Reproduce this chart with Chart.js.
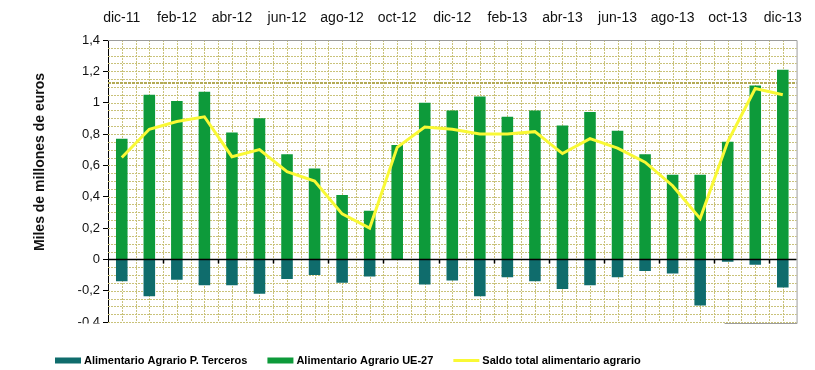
<!DOCTYPE html>
<html>
<head>
<meta charset="utf-8">
<script src="https://cdn.jsdelivr.net/npm/chart.js@4.4.1/dist/chart.umd.min.js"></script>
<style>
  html, body { margin: 0; padding: 0; background: #fff; }
  #wrap { width: 815px; height: 370px; position: relative; }
</style>
</head>
<body>
<div id="wrap"><canvas id="balanza"></canvas></div>
<script>
// Saldo comercial alimentario agrario, miles de millones de euros
const meses = ['dic-11', 'ene-12', 'feb-12', 'mar-12', 'abr-12', 'may-12', 'jun-12', 'jul-12',
               'ago-12', 'sep-12', 'oct-12', 'nov-12', 'dic-12', 'ene-13', 'feb-13', 'mar-13',
               'abr-13', 'may-13', 'jun-13', 'jul-13', 'ago-13', 'sep-13', 'oct-13', 'nov-13', 'dic-13'];
const terceros = [-0.14, -0.235, -0.13, -0.165, -0.165, -0.22, -0.125, -0.10, -0.15, -0.11, -0.005, -0.16,
                  -0.135, -0.235, -0.115, -0.14, -0.19, -0.165, -0.115, -0.075, -0.09, -0.295, -0.015, -0.035, -0.18];
const ue27 = [0.77, 1.05, 1.01, 1.07, 0.81, 0.90, 0.67, 0.58, 0.41, 0.31, 0.73, 1.00,
              0.95, 1.04, 0.91, 0.95, 0.855, 0.94, 0.82, 0.67, 0.54, 0.54, 0.75, 1.11, 1.21];
const saldo = [0.65, 0.83, 0.88, 0.91, 0.655, 0.70, 0.56, 0.50, 0.29, 0.20, 0.715, 0.845,
               0.83, 0.80, 0.80, 0.815, 0.675, 0.77, 0.71, 0.62, 0.47, 0.26, 0.75, 1.09, 1.05];
const yMin = -0.4, yMax = 1.4, yPaso = 0.2;

Chart.defaults.font.family = "'Liberation Sans', Arial, sans-serif";
Chart.defaults.color = '#111';

const fmtComa = v => String(Math.round(v * 10) / 10).replace('.', ',');

// punteado de fondo, linea de cero y marco
const fondo = {
  id: 'fondo',
  beforeDatasetsDraw(chart) {
    const { ctx, chartArea: a, scales: { x, y } } = chart;
    const half = (x.getPixelForValue(1) - x.getPixelForValue(0)) / 2;
    ctx.save();
    ctx.strokeStyle = '#c9c27a';
    ctx.lineWidth = 1;
    ctx.setLineDash([2, 1]);
    ctx.beginPath();
    for (let i = 0; i < meses.length; i++) {
      const c = x.getPixelForValue(i);
      [c - half, c].forEach(px => {
        if (px <= a.left + 1) return;
        const p = Math.round(px) + 0.5;
        ctx.moveTo(p, a.top);
        ctx.lineTo(p, a.bottom);
      });
    }
    for (let k = -8; k <= 27; k++) {
      const p = Math.round(y.getPixelForValue(k * 0.05)) + 0.5;
      ctx.moveTo(a.left, p);
      ctx.lineTo(a.right, p);
    }
    ctx.stroke();
    ctx.strokeStyle = '#b3aa55';
    ctx.lineWidth = 2;
    ctx.setLineDash([3, 1]);
    ctx.beginPath();
    const g = Math.round(y.getPixelForValue(1.125));
    ctx.moveTo(a.left, g);
    ctx.lineTo(a.right, g);
    ctx.stroke();
    ctx.restore();
  },
  afterDatasetsDraw(chart) {
    const { ctx, chartArea: a, scales: { x, y } } = chart;
    const half = (x.getPixelForValue(1) - x.getPixelForValue(0)) / 2;
    ctx.save();
    ctx.strokeStyle = '#000';
    ctx.lineWidth = 1.5;
    const z = Math.round(y.getPixelForValue(0)) + 0.5;
    ctx.beginPath();
    ctx.moveTo(a.left, z);
    ctx.lineTo(a.right, z);
    for (let i = 1; i < meses.length - 1; i += 2) {
      const p = Math.round(x.getPixelForValue(i) + half) + 0.5;
      ctx.moveTo(p, z);
      ctx.lineTo(p, z + 4);
    }
    ctx.stroke();
    ctx.strokeStyle = '#9c9c9c';
    ctx.lineWidth = 1;
    ctx.beginPath();
    ctx.moveTo(a.left, a.top + 0.5);
    ctx.lineTo(a.right + 0.5, a.top + 0.5);
    ctx.lineTo(a.right + 0.5, a.bottom + 1.5);
    ctx.lineTo(a.right - 72, a.bottom + 1.5);
    ctx.stroke();
    ctx.restore();
  },
  afterDraw(chart) {
    const { ctx, chartArea: a } = chart;
    ctx.save();
    // franja inferior recortada
    ctx.fillStyle = '#fff';
    ctx.fillRect(0, a.bottom + 1.5, a.left - 1, 12);
    ctx.translate(40, 162);
    ctx.rotate(-Math.PI / 2);
    ctx.fillStyle = '#111';
    ctx.font = "bold 14px 'Liberation Sans', Arial, sans-serif";
    ctx.textAlign = 'center';
    ctx.textBaseline = 'middle';
    ctx.fillText('Miles de millones de euros', 0, 0);
    ctx.restore();
  }
};

// leyenda inferior: caja o trazo de cada serie y su nombre
const leyenda = {
  id: 'leyenda',
  afterDraw(chart) {
    const { ctx } = chart;
    const cy = 360.5;
    let x = 55;
    ctx.save();
    ctx.font = "bold 11px 'Liberation Sans', Arial, sans-serif";
    ctx.textBaseline = 'middle';
    chart.data.datasets.forEach(ds => {
      if (ds.type === 'line') {
        ctx.strokeStyle = ds.borderColor;
        ctx.lineWidth = ds.borderWidth;
        ctx.beginPath();
        ctx.moveTo(x, cy);
        ctx.lineTo(x + 26, cy);
        ctx.stroke();
      } else {
        ctx.fillStyle = ds.backgroundColor;
        ctx.fillRect(x, cy - 3, 26, 6);
      }
      x += 29;
      ctx.fillStyle = '#000';
      ctx.fillText(ds.label, x, cy);
      x += ctx.measureText(ds.label).width + 20;
    });
    ctx.restore();
  }
};

new Chart(document.getElementById('balanza'), {
  data: {
    labels: meses,
    datasets: [
      {
        type: 'bar',
        label: 'Alimentario Agrario P. Terceros',
        data: terceros,
        backgroundColor: '#0f6c6c',
        stack: 'comercio',
        barPercentage: 0.42,
        categoryPercentage: 1
      },
      {
        type: 'bar',
        label: 'Alimentario Agrario UE-27',
        data: ue27,
        backgroundColor: '#0d9a3a',
        stack: 'comercio',
        barPercentage: 0.42,
        categoryPercentage: 1
      },
      {
        type: 'line',
        label: 'Saldo total alimentario agrario',
        data: saldo,
        borderColor: '#f9f935',
        backgroundColor: '#f9f935',
        borderWidth: 3,
        pointRadius: 0,
        tension: 0,
        stack: 'saldo',
        order: -1
      }
    ]
  },
  options: {
    responsive: true,
    maintainAspectRatio: false,
    animation: false,
    layout: { padding: { left: 2, right: 7, top: 0, bottom: 48 } },
    scales: {
      x: {
        position: 'top',
        grid: { display: false, drawTicks: false },
        border: { display: false },
        ticks: {
          autoSkip: false,
          maxRotation: 0,
          padding: 13,
          font: { size: 14 },
          callback: (v, i) => (i % 2 === 0 ? meses[i] : '')
        },
        afterFit: s => { s.height = 40; }
      },
      y: {
        stacked: true,
        min: yMin,
        max: yMax,
        grid: { drawOnChartArea: false, drawTicks: true, tickLength: 5, color: '#000' },
        border: { display: true, color: '#000', width: 1 },
        ticks: {
          stepSize: yPaso,
          padding: 3,
          font: { size: 13 },
          callback: v => fmtComa(v)
        },
        afterFit: s => { s.width = 106; }
      }
    },
    plugins: {
      tooltip: { enabled: true },
      legend: { display: false }
    }
  },
  plugins: [fondo, leyenda]
});
</script>
</body>
</html>
